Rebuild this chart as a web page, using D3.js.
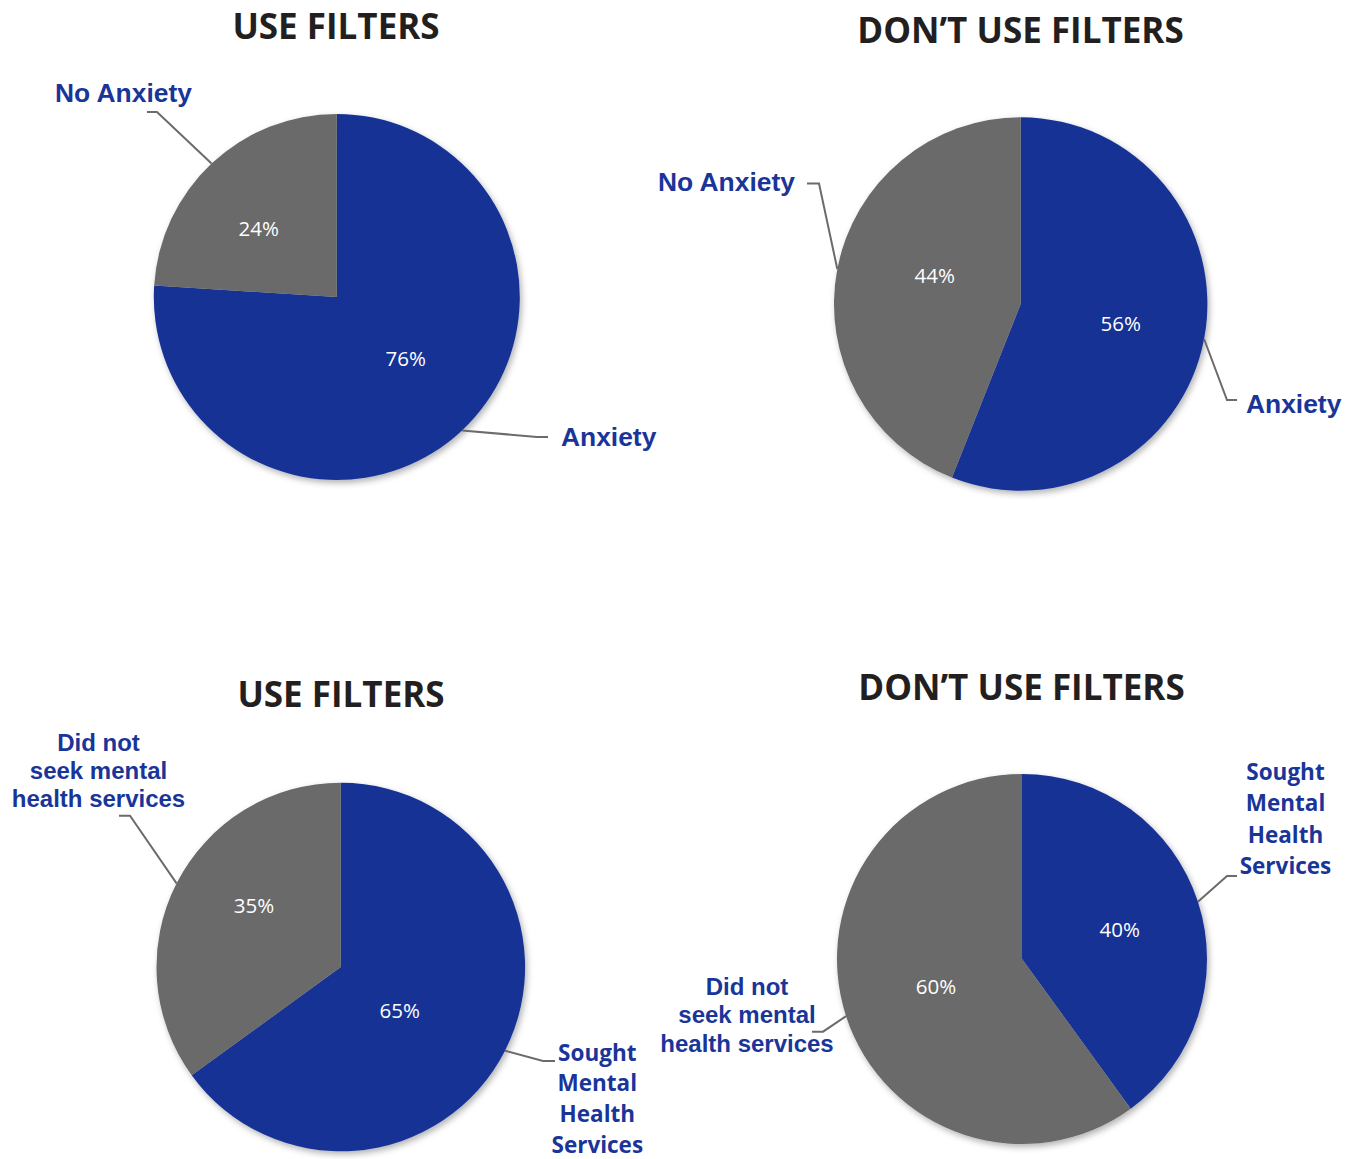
<!DOCTYPE html>
<html>
<head>
<meta charset="utf-8">
<script src="https://cdn.jsdelivr.net/npm/d3@7"></script>
<style>
  html, body { margin: 0; padding: 0; background: #ffffff; }
  svg { display: block; }
</style>
</head>
<body>
<svg id="chart" width="1356" height="1159"></svg>
<script>
// ---------- DATA ----------
const chartTitles = ["USE FILTERS", "DON\u2019T USE FILTERS", "USE FILTERS", "DON\u2019T USE FILTERS"];
const anxietyCategories = ["Anxiety", "No Anxiety"];
const servicesCategories = ["Sought Mental Health Services", "Did not seek mental health services"];
const useFiltersAnxiety = [76, 24];
const noFiltersAnxiety = [56, 44];
const useFiltersServices = [65, 35];
const noFiltersServices = [40, 60];
// label line breaks (text only)
const anxietyLabelLines = [["Anxiety"], ["No Anxiety"]];
const servicesLabelLines = [["Sought", "Mental", "Health", "Services"], ["Did not", "seek mental", "health services"]];

// ---------- STYLE / LAYOUT ----------
const colors = ["#183394", "#696a69"];
const labelColor = "#1a3599";
const titleColor = "#231f20";
const leaderColor = "#6b6b6b";

// pct label placement: radius from centre and angular offset (deg) from slice mid-angle
const panels = [
  { title: chartTitles[0], cats: anxietyCategories, values: useFiltersAnxiety, lines: anxietyLabelLines,
    cx: 336.8, cy: 297, r: 183, titleX: 336, titleY: 39,
    pctR: [92.8, 103.5], pctDA: [-4.8, -5.7],
    labels: [
      { elbow: [537, 437], end: [548, 437], x: 561, y: 446, anchor: "start", font: "arial" },
      { elbow: [157, 112], end: [147, 112], x: 55, y: 102, anchor: "start", font: "arial" }
    ] },
  { title: chartTitles[1], cats: anxietyCategories, values: noFiltersAnxiety, lines: anxietyLabelLines,
    cx: 1020.7, cy: 304, r: 186.7, titleX: 1020.5, titleY: 43,
    pctR: [102, 90.4], pctDA: [0.5, 7.2],
    labels: [
      { elbow: [1227, 400], end: [1237, 400], x: 1246, y: 413, anchor: "start", font: "arial" },
      { elbow: [819, 183.5], end: [807, 183.5], x: 658, y: 191, anchor: "start", font: "arial" }
    ] },
  { title: chartTitles[2], cats: servicesCategories, values: useFiltersServices, lines: servicesLabelLines,
    cx: 340.8, cy: 967, r: 184.3, titleX: 341, titleY: 707,
    pctR: [73.6, 106], pctDA: [9.7, 8],
    labels: [
      { elbow: [543, 1061], end: [555, 1061], x: 597.3, y: 1060.5, anchor: "middle", font: "calibri", lh: 30.9 },
      { elbow: [130, 815.7], end: [119, 815.7], x: 98.5, y: 750.7, anchor: "middle", font: "arialSmall", lh: 28.3 }
    ] },
  { title: chartTitles[3], cats: servicesCategories, values: noFiltersServices, lines: servicesLabelLines,
    cx: 1022, cy: 959, r: 185, titleX: 1021.5, titleY: 700,
    pctR: [102, 90.4], pctDA: [1.5, 0],
    labels: [
      { elbow: [1227, 876], end: [1237, 876], x: 1285.5, y: 779.5, anchor: "middle", font: "calibri", lh: 31.5 },
      { elbow: [823, 1031.7], end: [812, 1031.7], x: 747, y: 995, anchor: "middle", font: "arialSmall", lh: 28.3 }
    ] }
];

const fonts = {
  arial: { family: "'Liberation Sans', Arial, sans-serif", size: 26.4, weight: 700 },
  arialSmall: { family: "'Liberation Sans', Arial, sans-serif", size: 24, weight: 700 },
  calibri: { family: "'Open Sans', sans-serif", size: 22.5, weight: 700 }
};

const svg = d3.select("#chart");
const defs = svg.append("defs");
const filt = defs.append("filter").attr("id", "shadow")
  .attr("x", "-10%").attr("y", "-10%").attr("width", "125%").attr("height", "125%");
filt.append("feDropShadow").attr("dx", 2).attr("dy", 3).attr("stdDeviation", 3)
  .attr("flood-color", "#000").attr("flood-opacity", 0.3);

const color = d3.scaleOrdinal().domain([0, 1]).range(colors);
const deg = Math.PI / 180;

panels.forEach(p => {
  const g = svg.append("g");
  const pie = d3.pie().sort(null).value(d => d)(p.values);
  const arc = d3.arc().innerRadius(0).outerRadius(p.r);

  // title
  g.append("text")
    .attr("x", p.titleX).attr("y", p.titleY)
    .attr("text-anchor", "middle")
    .attr("font-family", "'Open Sans', sans-serif")
    .attr("font-weight", 700)
    .attr("font-size", 35)
    .attr("fill", titleColor)
    .text(p.title);

  // slices
  const pg = g.append("g").attr("transform", `translate(${p.cx},${p.cy})`);
  pg.append("g").attr("filter", "url(#shadow)")
    .selectAll("path").data(pie).join("path")
    .attr("d", arc)
    .attr("fill", (d, i) => color(i));

  // percentage labels
  pg.selectAll("text.pct").data(pie).join("text")
    .attr("class", "pct")
    .attr("transform", (d, i) => {
      const a = (d.startAngle + d.endAngle) / 2 + p.pctDA[i] * deg;
      const x = p.pctR[i] * Math.sin(a), y = -p.pctR[i] * Math.cos(a);
      return `translate(${x},${y})`;
    })
    .attr("text-anchor", "middle")
    .attr("dy", "0.35em")
    .attr("font-family", "'Open Sans', sans-serif")
    .attr("font-size", 20.5)
    .attr("fill", "#ffffff")
    .text(d => d.data + "%");

  // leader lines + category labels
  pie.forEach((d, i) => {
    const L = p.labels[i];
    const mid = (d.startAngle + d.endAngle) / 2;
    const sx = p.cx + p.r * Math.sin(mid);
    const sy = p.cy - p.r * Math.cos(mid);
    g.append("path")
      .attr("d", d3.line()([[sx, sy], L.elbow, L.end]))
      .attr("fill", "none")
      .attr("stroke", leaderColor)
      .attr("stroke-width", 2);

    const f = fonts[L.font];
    const t = g.append("text")
      .attr("x", L.x).attr("y", L.y)
      .attr("text-anchor", L.anchor)
      .attr("font-family", f.family)
      .attr("font-weight", f.weight)
      .attr("font-size", f.size)
      .attr("fill", labelColor);
    p.lines[i].forEach((ln, k) => {
      t.append("tspan").attr("x", L.x).attr("y", L.y + k * (L.lh || 0)).text(ln);
    });
  });
});
</script>
</body>
</html>
